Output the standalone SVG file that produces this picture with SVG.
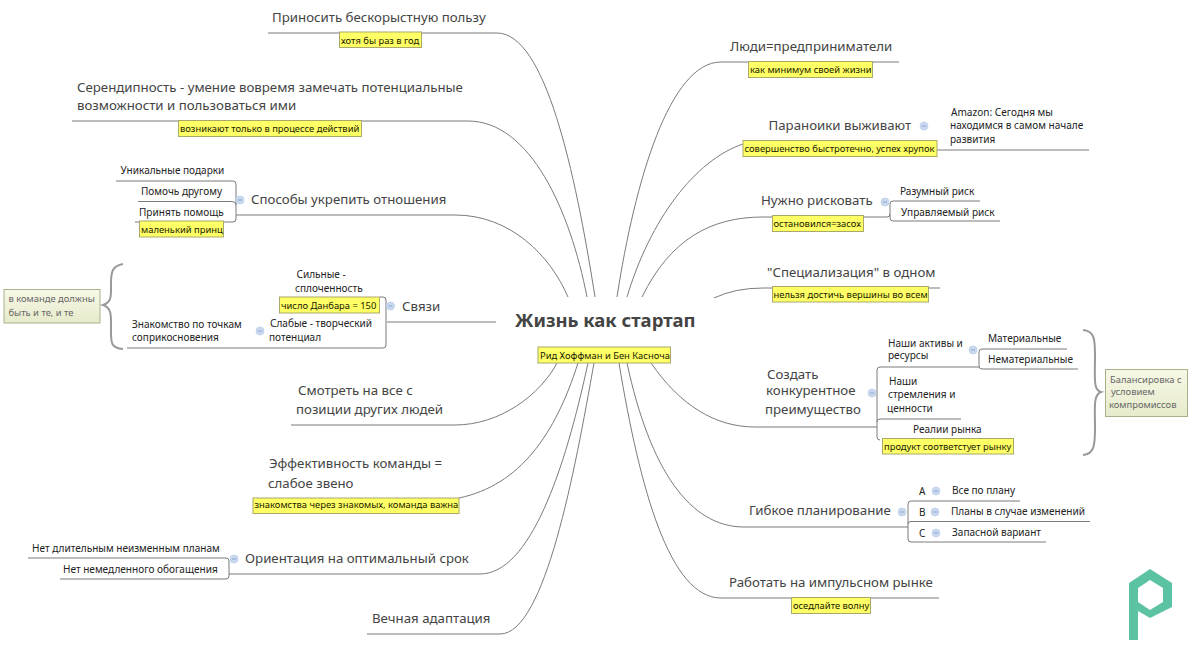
<svg xmlns="http://www.w3.org/2000/svg" width="1194" height="651" viewBox="0 0 1194 651">
<defs>
<linearGradient id="ng" x1="0" y1="0" x2="0" y2="1"><stop offset="0" stop-color="#f7f8e6"/><stop offset="1" stop-color="#e6ebcb"/></linearGradient>
<style>
text{font-family:"Noto Sans","Open Sans","DejaVu Sans",sans-serif;fill:#333}
.l{font-size:13.25px;fill:#444}
.m{font-size:10.05px;fill:#222}
.y{font-size:9.4px;fill:#1a1a00}
.n{font-size:9.4px;fill:#666}
.t{font-size:18.5px;font-weight:700;fill:#444}
.c{fill:none;stroke:#7b7b7b;stroke-width:1}
.b{fill:none;stroke:#999;stroke-width:2}
.yb{fill:#ffff66;stroke:#a9a96a;stroke-width:1}
.nb{fill:url(#ng);stroke:#a8b08c;stroke-width:1}
</style>
<g id="ic"><circle r="4" fill="#c9d8ee" stroke="#bcd0ea" stroke-width=".8"/><path d="M-2 0H2" stroke="#7f9cc6" stroke-width=".8"/></g>
</defs>
<rect width="1194" height="651" fill="#fff"/>
<g id="connectors">
<path class="c" d="M268 33H497C545 33 575 170 595 297"/>
<path class="c" d="M72 121H468C530 121 570 210 587 297"/>
<path class="c" d="M236 215H455C510 215 550 255 568 297"/>
<path class="c" d="M387 322H496"/>
<path class="c" d="M116 181H233Q236 181 236 184V219Q236 222 233 222H135M138 201.500H232Q236 201.500 236 205"/>
<path class="c" d="M380 297H383Q386 297 386 300V345Q386 348 383 348H127"/>
<path class="c" d="M291 425H455C500 425 540 395 557 363"/>
<path class="c" d="M459 498C520 485 555 435 578 363"/>
<path class="c" d="M229 574H480C530 574 565 470 588 363"/>
<path class="c" d="M28 558H226Q229 558 229 561V576Q229 579 226 579H60"/>
<path class="c" d="M367 634H500C545 634 575 470 594 363"/>
<path class="c" d="M617 297C635 180 670 62 721 62H899"/>
<path class="c" d="M627 297C650 220 695 160 743 144M937 150H1089"/>
<path class="c" d="M642 297C670 240 710 217 763 217H887Q890 217 890 214V204Q890 201 893 201H980M890 214V218Q890 221 893 221H1000"/>
<path class="c" d="M714 298Q735 288 763 288H940"/>
<path class="c" d="M651 363C680 405 715 427 755 427H877M880 367H979M877 370Q877 367 880 367M877 370V437Q877 440 880 440M877 422Q877 419 880 419H961"/>
<path class="c" d="M979 366V352Q979 349 982 349H1067M979 366Q979 369 982 369H1078"/>
<path class="c" d="M627 363C650 470 690 527 744 527H908M908 504Q908 501 911 501H1020M908 504V539Q908 542 911 542H1046M908 524Q908 521.500 911 521.500H1090"/>
<path class="c" d="M619 363C640 490 670 598 721 598H939"/>
<path class="b" d="M123 264C112 266 111 272 111 284C111 296 112 302 103 305C112 308 111 316 111 328C111 342 110 348 123 349"/>
<path class="b" d="M1083 330C1094 331 1095 338 1095 355C1095 378 1093 390 1101 392C1093 395 1095 408 1095 428C1095 446 1094 454 1083 455"/>
</g>
<g id="n-center"><text class="t" x="515" y="327">Жизнь как стартап</text><rect class="yb" x="538" y="347" width="132.500" height="16"/><text class="y" x="540" y="358.500">Рид Хоффман и Бен Касноча</text></g>
<g id="n-benefit"><text class="l" x="272" y="22">Приносить бескорыстную пользу</text><rect class="yb" x="339.500" y="32" width="82" height="15.500"/><text class="y" x="341" y="43.500">хотя бы раз в год</text></g>
<g id="n-serendip"><text class="l" x="77" y="92">Серендипность - умение вовремя замечать потенциальные</text><text class="l" x="77" y="110">возможности и пользоваться ими</text><rect class="yb" x="178.500" y="120.500" width="183" height="16"/><text class="y" x="180" y="132">возникают только в процессе действий</text></g>
<g id="n-relations"><text class="l" x="251" y="204">Способы укрепить отношения</text><use href="#ic" x="240" y="200"/><text class="m" x="120.500" y="174">Уникальные подарки</text><text class="m" x="141" y="195">Помочь другому</text><text class="m" x="139" y="216">Принять помощь</text><rect class="yb" x="139.500" y="221" width="84" height="16"/><text class="y" x="141" y="233">маленький принц</text></g>
<g id="n-links"><text class="l" x="402" y="311">Связи</text><use href="#ic" x="390.500" y="306"/><text class="m" x="296.500" y="278">Сильные  -</text><text class="m" x="295" y="292">сплоченность</text><rect class="yb" x="279.500" y="297" width="100" height="16"/><text class="y" x="281" y="308.500">число Данбара = 150</text><text class="m" x="132" y="328">Знакомство по точкам</text><text class="m" x="132" y="341">соприкосновения</text><use href="#ic" x="260" y="331"/><text class="m" x="270" y="327">Слабые - творческий</text><text class="m" x="269" y="341">потенциал</text></g>
<g id="n-note-left"><rect class="nb" x="4" y="289.500" width="96" height="33.500"/><text class="n" x="8.500" y="302">в команде должны</text><text class="n" x="8.500" y="316">быть и те, и те</text></g>
<g id="n-others"><text class="l" x="298" y="395">Смотреть на все с</text><text class="l" x="296" y="414">позиции других людей</text></g>
<g id="n-team"><text class="l" x="269" y="468">Эффективность команды =</text><text class="l" x="268" y="488">слабое звено</text><rect class="yb" x="253" y="498" width="206" height="15.500"/><text class="y" x="254.500" y="507.500">знакомства через знакомых, команда важна</text></g>
<g id="n-term"><text class="l" x="245" y="563">Ориентация на оптимальный срок</text><use href="#ic" x="234" y="559"/><text class="m" x="32" y="552">Нет длительным неизменным планам</text><text class="m" x="63" y="573">Нет немедленного обогащения</text></g>
<g id="n-adapt"><text class="l" x="372" y="623">Вечная адаптация</text></g>
<g id="n-people"><text class="l" x="730" y="51">Люди=предприниматели</text><rect class="yb" x="748.500" y="61.500" width="124" height="16"/><text class="y" x="750" y="73">как минимум своей жизни</text></g>
<g id="n-paranoid"><text class="l" x="768.500" y="130">Параноики выживают</text><use href="#ic" x="924" y="126"/><rect class="yb" x="743" y="140.500" width="194" height="16"/><text class="y" x="744.500" y="152">совершенство быстротечно, успех хрупок</text><text class="m" x="951" y="116">Amazon: Сегодня мы</text><text class="m" x="950" y="129">находимся в самом начале</text><text class="m" x="950" y="143">развития</text></g>
<g id="n-risk"><text class="l" x="761" y="205">Нужно рисковать</text><use href="#ic" x="885" y="202"/><rect class="yb" x="772.500" y="215.500" width="91" height="16"/><text class="y" x="773.500" y="227">остановился=засох</text><text class="m" x="900" y="195">Разумный риск</text><text class="m" x="901" y="215.500">Управляемый риск</text></g>
<g id="n-special"><text class="l" x="767" y="277">"Специализация" в одном</text><rect class="yb" x="772.500" y="286.500" width="156" height="15.500"/><text class="y" x="773.500" y="298">нельзя достичь вершины во всем</text></g>
<g id="n-advantage"><text class="l" x="767" y="379">Создать</text><text class="l" x="766" y="395">конкурентное</text><text class="l" x="765" y="414">преимущество</text><use href="#ic" x="872" y="393"/><text class="m" x="888" y="347">Наши активы и</text><text class="m" x="888" y="359">ресурсы</text><use href="#ic" x="973" y="350"/><text class="m" x="988" y="342">Материальные</text><text class="m" x="988" y="363">Нематериальные</text><text class="m" x="889" y="385">Наши</text><text class="m" x="888" y="397.500">стремления и</text><text class="m" x="887" y="412">ценности</text><text class="m" x="913" y="433">Реалии рынка</text><rect class="yb" x="882.500" y="438.500" width="131" height="15.500"/><text class="y" x="884" y="449.500">продукт соответстует рынку</text></g>
<g id="n-note-right"><rect class="nb" x="1105.500" y="369.500" width="82" height="47"/><text class="n" x="1110" y="383">Балансировка с</text><text class="n" x="1111" y="395">условием</text><text class="n" x="1109" y="408">компромиссов</text></g>
<g id="n-plan"><text class="l" x="749" y="515">Гибкое планирование</text><use href="#ic" x="902" y="512"/><text class="m" x="919" y="495">A</text><use href="#ic" x="936" y="491"/><text class="m" x="952" y="494">Все по плану</text><text class="m" x="919" y="516">B</text><use href="#ic" x="935" y="512"/><text class="m" x="951" y="515">Планы в случае изменений</text><text class="m" x="919" y="537">C</text><use href="#ic" x="936" y="533"/><text class="m" x="952" y="536">Запасной вариант</text></g>
<g id="n-impulse"><text class="l" x="729" y="587">Работать на импульсном рынке</text><rect class="yb" x="791.500" y="597.500" width="79" height="16"/><text class="y" x="793" y="609">оседлайте волну</text></g>
<path id="logo" fill="#5cc2a4" fill-rule="evenodd" d="M1150 569L1172 583V607L1150 618L1138 611V640H1129V583ZM1150 580L1138 588V602L1150 610L1163 602V588Z"/>
</svg>
